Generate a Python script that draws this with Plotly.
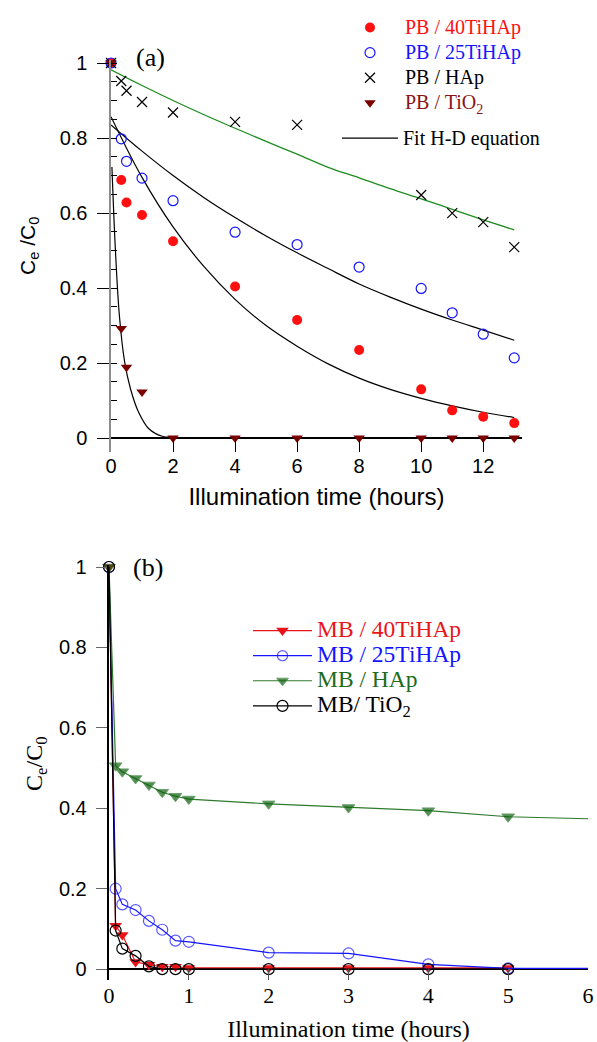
import plotly.graph_objects as go

# ---------------- panel (a): PB photodegradation ----------------
t_pb = [0, 0.33, 0.5, 1, 2, 4, 6, 8, 10, 11, 12, 13]
pb_40tihap = [1.0, 0.688, 0.628, 0.595, 0.525, 0.404, 0.315, 0.235, 0.13, 0.074, 0.057, 0.04]
pb_25tihap = [1.0, 0.798, 0.738, 0.693, 0.633, 0.549, 0.516, 0.456, 0.399, 0.334, 0.277, 0.214]
t_pb_hap = [0, 0.33, 0.5, 1, 2, 4, 6, 10, 11, 12, 13]
pb_hap = [1.0, 0.952, 0.926, 0.896, 0.868, 0.843, 0.835, 0.648, 0.600, 0.576, 0.509]
pb_tio2 = [1.0, 0.292, 0.189, 0.123, 0.0, 0.0, 0.0, 0.0, 0.0, 0.0, 0.0, 0.0]

# H-D equation fit curves
fit_t = [0, 1, 2, 3, 4, 5, 6, 7, 8, 9, 10, 11, 12, 13]
fit_40tihap = [0.857, 0.695, 0.563, 0.457, 0.37, 0.30, 0.245, 0.198, 0.16, 0.13, 0.106, 0.086, 0.069, 0.055]
fit_25tihap = [0.835, 0.765, 0.70, 0.641, 0.588, 0.539, 0.494, 0.452, 0.411, 0.376, 0.344, 0.315, 0.288, 0.261]
fit_hap = [0.982, 0.94, 0.90, 0.862, 0.826, 0.791, 0.757, 0.722, 0.694, 0.665, 0.638, 0.61, 0.582, 0.555]
fit_tio2_t = [0.03, 0.14, 0.27, 0.44, 0.63, 0.89, 1.22, 1.65, 2.0, 2.5]
fit_tio2 = [0.723, 0.505, 0.327, 0.203, 0.131, 0.069, 0.025, 0.005, 0.002, 0.0]

pb_xticks = [0, 2, 4, 6, 8, 10, 12]

# ---------------- panel (b): MB photodegradation ----------------
t_mb = [0, 0.083, 0.167, 0.333, 0.5, 0.667, 0.833, 1, 2, 3, 4, 5]
t_mb_ext = [0, 0.083, 0.167, 0.333, 0.5, 0.667, 0.833, 1, 2, 3, 4, 5, 6]
mb_40tihap = [1.0, 0.108, 0.085, 0.018, 0.011, 0.006, 0.006, 0.003, 0.003, 0.003, 0.003, 0.003]
mb_25tihap = [1.0, 0.20, 0.161, 0.147, 0.12, 0.098, 0.071, 0.068, 0.041, 0.039, 0.012, 0.002, 0.002]
mb_hap = [1.0, 0.506, 0.491, 0.474, 0.458, 0.44, 0.43, 0.423, 0.411, 0.402, 0.394, 0.379, 0.374]
mb_tio2 = [1.0, 0.096, 0.051, 0.033, 0.007, 0.0, 0.0, 0.0, 0.0, 0.0, 0.0, 0.0]

mb_xticks = [0, 1, 2, 3, 4, 5, 6]

y_ticks = [0, 0.2, 0.4, 0.6, 0.8, 1.0]
y_ticktext = ["0", "0.2", "0.4", "0.6", "0.8", "1"]

# ---------------- page geometry ----------------
W, H = 597, 1042
SANS = "Liberation Sans, Arial, sans-serif"
SERIF = "Liberation Serif, Times New Roman, serif"
NBSP = "\u00a0"


def fx(px):
    return px / W


def fy(py):
    return 1 - py / H


def label(text, color, size):
    return f'<span style="color:{color};font-size:{size}px">{text}</span>'


# y tick labels sit a little further from the axis than plotly's default
y_ticklabels = [t + NBSP for t in y_ticktext]

fig = go.Figure()

# ---- panel (a) fits ----
fig.add_trace(go.Scatter(x=fit_t, y=fit_hap, mode="lines", line=dict(color="#1e8c1e", width=1.3, shape="spline"),
                         xaxis="x", yaxis="y", showlegend=False, hoverinfo="skip"))
fig.add_trace(go.Scatter(x=fit_t, y=fit_40tihap, mode="lines", line=dict(color="black", width=1.2, shape="spline"),
                         xaxis="x", yaxis="y", legend="legend2",
                         name=label("Fit H-D equation", "black", 20)))
fig.add_trace(go.Scatter(x=fit_t, y=fit_25tihap, mode="lines", line=dict(color="black", width=1.2, shape="spline"),
                         xaxis="x", yaxis="y", showlegend=False))
fig.add_trace(go.Scatter(x=fit_tio2_t, y=fit_tio2, mode="lines", line=dict(color="black", width=1.2, shape="spline"),
                         xaxis="x", yaxis="y", showlegend=False))

# ---- panel (a) measurements ----
fig.add_trace(go.Scatter(x=t_pb, y=pb_40tihap, mode="markers", cliponaxis=False,
                         marker=dict(symbol="circle", size=10, color="#ff1010"),
                         xaxis="x", yaxis="y", legend="legend",
                         name=label("PB / 40TiHAp", "#ff1010", 20)))
fig.add_trace(go.Scatter(x=t_pb, y=pb_25tihap, mode="markers", cliponaxis=False,
                         marker=dict(symbol="circle-open", size=10, color="#1414ff", line=dict(width=1.2)),
                         xaxis="x", yaxis="y", legend="legend",
                         name=label("PB / 25TiHAp", "#1414ff", 20)))
fig.add_trace(go.Scatter(x=t_pb_hap, y=pb_hap, mode="markers", cliponaxis=False,
                         marker=dict(symbol="x-thin-open", size=10, color="black", line=dict(width=1.2)),
                         xaxis="x", yaxis="y", legend="legend",
                         name=label("PB / HAp", "black", 20)))
fig.add_trace(go.Scatter(x=t_pb, y=pb_tio2, mode="markers", cliponaxis=False,
                         marker=dict(symbol="triangle-down", size=10, color="#7a0000"),
                         xaxis="x", yaxis="y", legend="legend",
                         name=label("PB / TiO<sub>2</sub>", "#8a1414", 20)))

# ---- panel (b) ----
fig.add_trace(go.Scatter(x=t_mb, y=mb_40tihap, mode="lines+markers", cliponaxis=False,
                         line=dict(color="#e8141a", width=1.2),
                         marker=dict(symbol="triangle-down", size=11, color="#e8141a"),
                         xaxis="x2", yaxis="y2", legend="legend3",
                         name=label("MB / 40TiHAp", "#e8141a", 23.5)))
fig.add_trace(go.Scatter(x=t_mb_ext, y=mb_25tihap, mode="lines+markers", cliponaxis=False,
                         line=dict(color="#1414ff", width=1.2),
                         marker=dict(symbol="circle-open", size=[11] * 12 + [0], color="#1414ff", line=dict(width=1.2)),
                         xaxis="x2", yaxis="y2", legend="legend3",
                         name=label("MB / 25TiHAp", "#1414ff", 23.5)))
fig.add_trace(go.Scatter(x=t_mb_ext, y=mb_hap, mode="lines+markers", cliponaxis=False,
                         line=dict(color="#2c7a2c", width=1.2),
                         marker=dict(symbol="triangle-down", size=[11] * 12 + [0], color="#0b5e0b"),
                         xaxis="x2", yaxis="y2", legend="legend3",
                         name=label("MB / HAp", "#1d6b1d", 23.5)))
fig.add_trace(go.Scatter(x=t_mb, y=mb_tio2, mode="lines+markers", cliponaxis=False,
                         line=dict(color="black", width=1.2),
                         marker=dict(symbol="circle-open", size=11, color="black", line=dict(width=1.2)),
                         xaxis="x2", yaxis="y2", legend="legend3",
                         name=label("MB/ TiO<sub>2</sub>", "black", 23.5)))

legend_common = dict(bgcolor="rgba(0,0,0,0)", borderwidth=0, xanchor="left", yanchor="top",
                     font=dict(family=SERIF, size=17, color="black"), traceorder="normal")

fig.update_layout(
    template="none",
    width=W, height=H,
    margin=dict(l=0, r=0, t=0, b=0, autoexpand=False),
    paper_bgcolor="white", plot_bgcolor="white",
    showlegend=True,
    xaxis=dict(domain=[fx(111), fx(522)], anchor="y", range=[0, 13.25],
               showline=False, zeroline=False, showgrid=False,
               ticks="inside", ticklen=14, tickwidth=1.2, tickcolor="black",
               tickvals=pb_xticks,
               tickfont=dict(family=SANS, size=20, color="black"),
               title=dict(text="Illumination time (hours)", font=dict(family=SANS, size=24, color="black"),
                          standoff=12),
               automargin=False),
    yaxis=dict(domain=[fy(452), fy(60)], anchor="x", range=[-0.037, 1.008],
               showline=True, linecolor="#8c8c8c", linewidth=2, showgrid=False,
               zeroline=True, zerolinecolor="black", zerolinewidth=1.5,
               ticks="outside", ticklen=12, tickwidth=1.2, tickcolor="black",
               tickvals=y_ticks, ticktext=y_ticklabels,
               tickfont=dict(family=SANS, size=20, color="black"),
               minor=dict(dtick=0.05, tick0=0, ticks="inside", ticklen=6, tickwidth=1, tickcolor="black"),
               automargin=False),
    xaxis2=dict(domain=[fx(109), fx(588)], anchor="y2", range=[0, 6],
                showline=False, zeroline=False, showgrid=False,
                ticks="inside", ticklen=11, tickwidth=1.2, tickcolor="#555555",
                tickvals=mb_xticks,
                tickfont=dict(family=SERIF, size=22, color="black"),
                title=dict(text="Illumination time (hours)", font=dict(family=SERIF, size=24, color="black")),
                automargin=False),
    yaxis2=dict(domain=[fy(980), fy(565)], anchor="x2", range=[-0.027, 1.005],
                showline=True, linecolor="black", linewidth=1.5, showgrid=False,
                zeroline=True, zerolinecolor="black", zerolinewidth=1.5,
                ticks="outside", ticklen=11, tickwidth=1.2, tickcolor="#666666",
                tickvals=y_ticks, ticktext=y_ticklabels,
                tickfont=dict(family=SANS, size=20, color="black"),
                automargin=False),
    legend=dict(x=fx(335), y=fy(10), itemwidth=60, **legend_common),
    legend2=dict(x=fx(337), y=fy(120.5), itemwidth=56, **legend_common),
    legend3=dict(x=fx(248), y=fy(613), itemwidth=59, **legend_common),
    annotations=[
        dict(text="(a)", x=fx(150), y=fy(58), xref="paper", yref="paper", showarrow=False,
             font=dict(family=SERIF, size=26, color="black"), xanchor="center", yanchor="middle"),
        dict(text="(b)", x=fx(148), y=fy(567), xref="paper", yref="paper", showarrow=False,
             font=dict(family=SERIF, size=26, color="black"), xanchor="center", yanchor="middle"),
        # rotated y-axis titles
        dict(text="C<sub>e</sub> /C<sub>0</sub>", x=fx(29), y=fy(246), xref="paper", yref="paper",
             showarrow=False, textangle=-90, xanchor="center", yanchor="middle",
             font=dict(family=SANS, size=21, color="black")),
        dict(text="C<sub>e</sub>/C<sub>0</sub>", x=fx(36), y=fy(764), xref="paper", yref="paper",
             showarrow=False, textangle=-90, xanchor="center", yanchor="middle",
             font=dict(family=SERIF, size=24, color="black")),
    ],
)

fig.write_html("out.html")
